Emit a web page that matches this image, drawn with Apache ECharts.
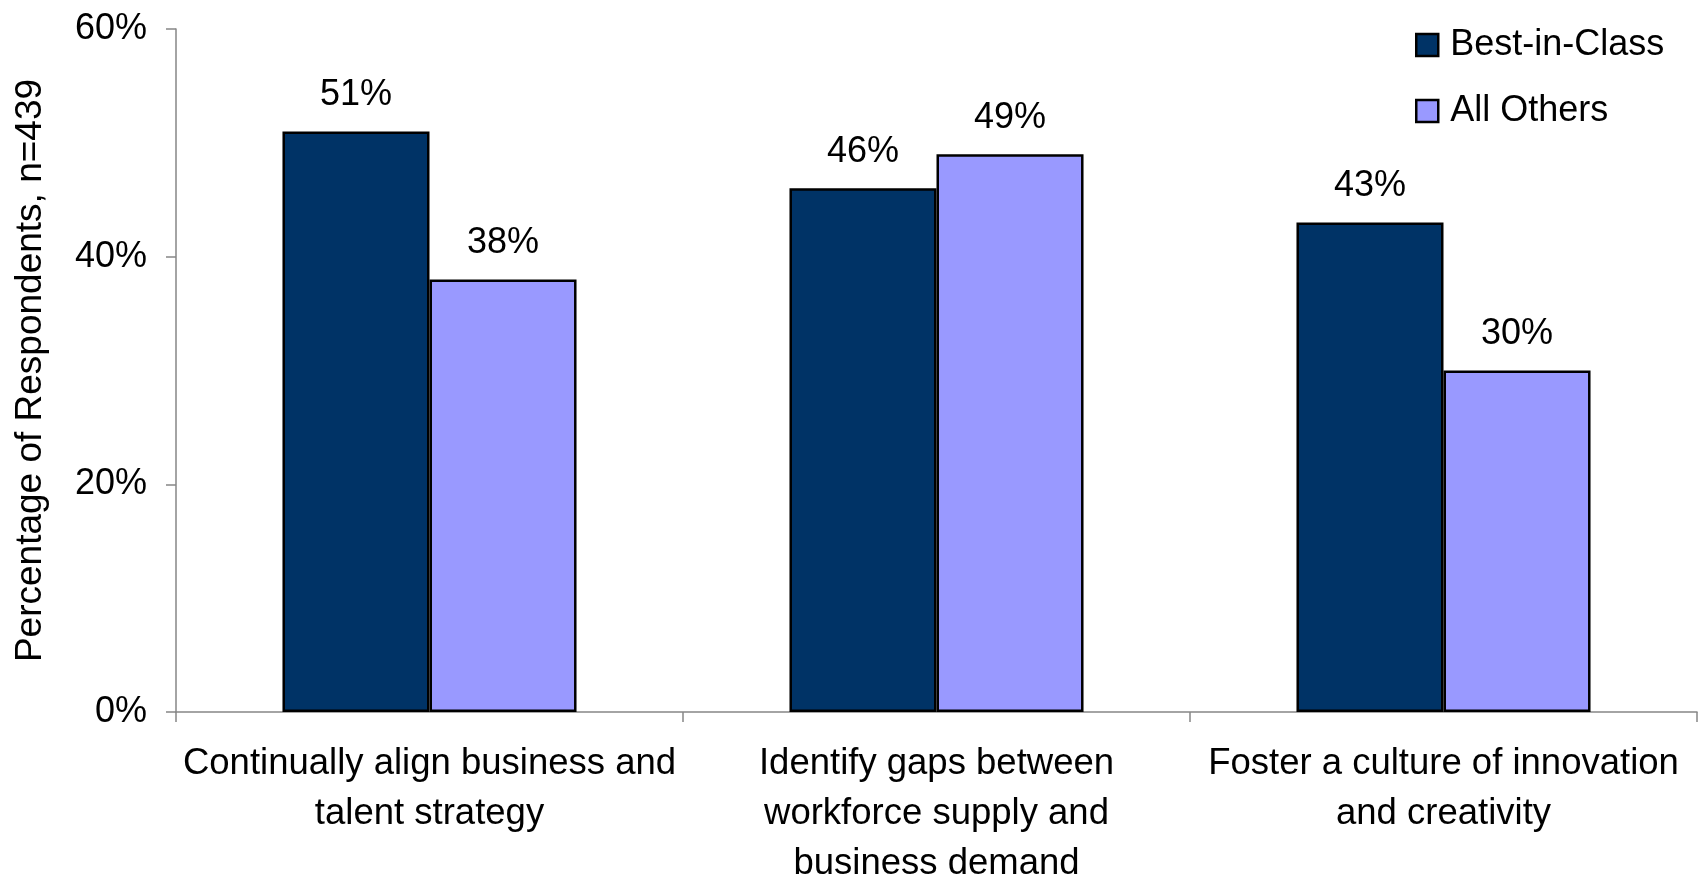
<!DOCTYPE html>
<html>
<head>
<meta charset="utf-8">
<script src="https://cdn.jsdelivr.net/npm/echarts@6/dist/echarts.min.js"></script>
<style>
  html, body { margin: 0; padding: 0; background: #fff; }
  #chart { width: 1700px; height: 881px; }
</style>
</head>
<body>
<div id="chart"></div>
<script>
// Survey results: share of respondents per capability, by maturity group
const categories = [
  'Continually align business and\ntalent strategy',
  'Identify gaps between\nworkforce supply and\nbusiness demand',
  'Foster a culture of innovation\nand creativity'
];
const seriesNames = ['Best-in-Class', 'All Others'];
const bestInClass = [51, 46, 43];
const allOthers = [38, 49, 30];
const yTicks = [0, 20, 40, 60];

const FONT = '"Liberation Sans", Arial, sans-serif';
const chart = echarts.init(document.getElementById('chart'), null, { renderer: 'canvas' });

const barLabel = {
  show: true,
  position: 'top',
  distance: 18,
  formatter: '{c}%',
  fontFamily: FONT,
  fontSize: 36,
  color: '#000'
};

chart.setOption({
  animation: false,
  backgroundColor: '#fff',
  grid: {
    left: 176, right: 3, top: 29, bottom: 169,
    containLabel: false,
    outerBoundsMode: 'none'
  },
  legend: {
    orient: 'vertical',
    left: 1410,
    top: 22,
    itemWidth: 22,
    itemHeight: 22,
    itemGap: 30,
    icon: 'rect',
    textStyle: {
      fontFamily: FONT,
      fontSize: 36,
      color: '#000',
      padding: [0, 0, 0, 7]
    },
    itemStyle: { borderColor: '#000', borderWidth: 2.5 },
    data: seriesNames
  },
  xAxis: {
    type: 'category',
    data: categories,
    axisLine: { lineStyle: { color: '#868686', width: 1.5 } },
    axisTick: { show: true, length: 10, lineStyle: { color: '#868686', width: 1.5 } },
    axisLabel: {
      interval: 0,
      margin: 27,
      fontFamily: FONT,
      fontSize: 36.5,
      lineHeight: 50,
      color: '#000',
      align: 'center'
    }
  },
  yAxis: {
    type: 'value',
    min: yTicks[0],
    max: yTicks[yTicks.length - 1],
    interval: yTicks[1] - yTicks[0],
    name: 'Percentage of Respondents, n=439',
    nameLocation: 'middle',
    nameGap: 127,
    nameTextStyle: { fontFamily: FONT, fontSize: 37, color: '#000' },
    axisLine: { show: true, lineStyle: { color: '#868686', width: 1.5 } },
    axisTick: { show: true, length: 10, lineStyle: { color: '#868686', width: 1.5 } },
    splitLine: { show: false },
    axisLabel: {
      margin: 29,
      fontFamily: FONT,
      fontSize: 36,
      color: '#000',
      formatter: '{value}%'
    }
  },
  series: [
    {
      name: seriesNames[0],
      type: 'bar',
      data: bestInClass,
      barGap: '0%',
      barCategoryGap: '42%',
      itemStyle: { color: '#003366', borderColor: '#000', borderWidth: 2.5 },
      label: barLabel
    },
    {
      name: seriesNames[1],
      type: 'bar',
      data: allOthers,
      barGap: '0%',
      barCategoryGap: '42%',
      itemStyle: { color: '#9999FF', borderColor: '#000', borderWidth: 2.5 },
      label: barLabel
    }
  ]
});
</script>
</body>
</html>
